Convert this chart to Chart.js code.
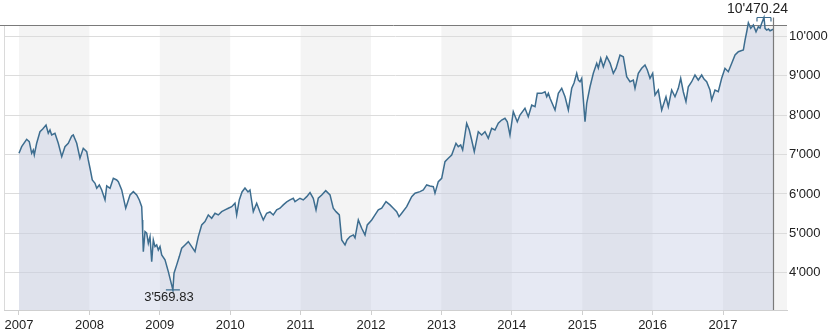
<!DOCTYPE html>
<html>
<head>
<meta charset="utf-8">
<script src="https://cdn.jsdelivr.net/npm/chart.js@4/dist/chart.umd.min.js"></script>
<style>
  body { margin: 0; background: #fff; }
  canvas { display: block; }
</style>
</head>
<body>
<canvas id="indexChart" width="830" height="335"></canvas>
<script>
// time in decimal years, index level
const years = [
  2007.000, 2007.038, 2007.109, 2007.146, 2007.180, 2007.203, 2007.217, 2007.251, 2007.298, 2007.337,
  2007.384, 2007.416, 2007.440, 2007.464, 2007.511, 2007.558, 2007.607, 2007.653, 2007.700, 2007.749,
  2007.771, 2007.820, 2007.866, 2007.913, 2007.962, 2007.984, 2008.009, 2008.041, 2008.080, 2008.104,
  2008.141, 2008.175, 2008.222, 2008.246, 2008.293, 2008.340, 2008.388, 2008.411, 2008.459, 2008.516,
  2008.577, 2008.624, 2008.672, 2008.709, 2008.743, 2008.751, 2008.757, 2008.766, 2008.790, 2008.814,
  2008.837, 2008.861, 2008.885, 2008.908, 2008.932, 2008.956, 2008.979, 2009.003, 2009.027, 2009.074,
  2009.121, 2009.186, 2009.202, 2009.240, 2009.277, 2009.311, 2009.358, 2009.405, 2009.453, 2009.500,
  2009.547, 2009.595, 2009.642, 2009.689, 2009.737, 2009.784, 2009.831, 2009.879, 2009.926, 2009.973,
  2010.021, 2010.068, 2010.092, 2010.129, 2010.168, 2010.210, 2010.253, 2010.281, 2010.328, 2010.376,
  2010.423, 2010.470, 2010.518, 2010.565, 2010.612, 2010.660, 2010.707, 2010.754, 2010.803, 2010.849,
  2010.896, 2010.920, 2010.991, 2011.038, 2011.087, 2011.134, 2011.180, 2011.219, 2011.251, 2011.300,
  2011.357, 2011.418, 2011.464, 2011.503, 2011.550, 2011.584, 2011.631, 2011.659, 2011.702, 2011.749,
  2011.773, 2011.820, 2011.868, 2011.915, 2011.947, 2012.010, 2012.057, 2012.104, 2012.152, 2012.213,
  2012.270, 2012.317, 2012.365, 2012.398, 2012.436, 2012.507, 2012.578, 2012.625, 2012.696, 2012.743,
  2012.791, 2012.838, 2012.885, 2012.909, 2012.956, 2013.004, 2013.051, 2013.098, 2013.146, 2013.207,
  2013.240, 2013.274, 2013.302, 2013.359, 2013.396, 2013.430, 2013.467, 2013.524, 2013.572, 2013.619,
  2013.666, 2013.714, 2013.761, 2013.808, 2013.856, 2013.903, 2013.936, 2013.974, 2014.021, 2014.078,
  2014.116, 2014.187, 2014.234, 2014.283, 2014.330, 2014.362, 2014.425, 2014.472, 2014.496, 2014.519,
  2014.543, 2014.614, 2014.661, 2014.709, 2014.756, 2014.803, 2014.851, 2014.884, 2014.922, 2014.945,
  2014.969, 2014.993, 2015.040, 2015.064, 2015.111, 2015.158, 2015.206, 2015.229, 2015.263, 2015.300,
  2015.349, 2015.396, 2015.442, 2015.480, 2015.537, 2015.584, 2015.632, 2015.679, 2015.726, 2015.750,
  2015.797, 2015.845, 2015.892, 2015.925, 2015.963, 2016.001, 2016.034, 2016.081, 2016.129, 2016.190,
  2016.223, 2016.271, 2016.318, 2016.365, 2016.399, 2016.436, 2016.474, 2016.507, 2016.555, 2016.602,
  2016.649, 2016.697, 2016.730, 2016.768, 2016.815, 2016.839, 2016.886, 2016.933, 2016.981, 2017.028,
  2017.075, 2017.124, 2017.171, 2017.218, 2017.289, 2017.313, 2017.337, 2017.360, 2017.394, 2017.431,
  2017.469, 2017.502, 2017.526, 2017.550, 2017.582, 2017.597, 2017.621, 2017.646, 2017.668, 2017.692,
  2017.710
];
const values = [
  7030, 7197, 7385, 7324, 7030, 7114, 6987, 7284, 7577, 7646,
  7747, 7537, 7620, 7494, 7537, 7284, 6944, 7197, 7284, 7468,
  7494, 7284, 6904, 7157, 7071, 6861, 6651, 6354, 6271, 6144,
  6228, 6101, 5848, 6203, 6144, 6397, 6354, 6312, 6101, 5638,
  5975, 6058, 5975, 5848, 5678, 5342, 5005, 4539, 5046, 5005,
  4752, 4919, 4286, 4835, 4666, 4709, 4582, 4666, 4456, 4329,
  4033, 3569.83, 3992, 4203, 4413, 4625, 4709, 4792, 4666, 4539,
  4919, 5215, 5299, 5468, 5385, 5511, 5468, 5552, 5595, 5638,
  5678, 5765, 5468, 5848, 6051, 6152, 6051, 6101, 5552, 5765,
  5544, 5342, 5511, 5544, 5468, 5595, 5638, 5722, 5797, 5848,
  5891, 5805, 5891, 5848, 5932, 6033, 5891, 5595, 5891, 5975,
  6084, 5975, 5638, 5552, 5468, 4835, 4709, 4835, 4919, 4962,
  4886, 5342, 5132, 4962, 5215, 5342, 5468, 5595, 5638, 5805,
  5722, 5638, 5552, 5425, 5511, 5678, 5932, 6018, 6058, 6101,
  6228, 6203, 6185, 6018, 6312, 6397, 6818, 6904, 6987, 7284,
  7197, 7241, 7114, 7790, 7620, 7367, 7071, 7577, 7494, 7577,
  7410, 7663, 7620, 7790, 7873, 7916, 7830, 7494, 8084, 7830,
  8000, 8170, 7957, 8253, 8210, 8549, 8549, 8590, 8463, 8549,
  8423, 8127, 8549, 8676, 8463, 8127, 8676, 8810, 9056, 8886,
  8843, 8929, 7830, 8296, 8716, 9056, 9309, 9190, 9435, 9223,
  9476, 9316, 9056, 9182, 9519, 9476, 8970, 8843, 8886, 8676,
  9056, 9182, 9266, 9139, 8929, 9056, 8506, 8633, 8127, 8463,
  8210, 8633, 8463, 8676, 8929, 8590, 8337, 8716, 8843, 9013,
  8886, 9013, 8911, 8843, 8633, 8380, 8633, 8590, 8929, 9182,
  9096, 9309, 9519, 9603, 9646, 9899, 10109, 10337, 10195, 10278,
  10109, 10235, 10203, 10322, 10470.24, 10195, 10152, 10177, 10134, 10152,
  10177
];
const yearTicks = [2007, 2008, 2009, 2010, 2011, 2012, 2013, 2014, 2015, 2016, 2017];
const levelTicks = [4000, 5000, 6000, 7000, 8000, 9000, 10000];

const lineColor = '#3d6d8f';
const textColor = '#222';

function swissFormat(v, decimals) {
  const parts = v.toFixed(decimals).split('.');
  parts[0] = parts[0].replace(/\B(?=(\d{3})+(?!\d))/g, "'");
  return parts.join('.');
}

Chart.defaults.font.family = '"Liberation Sans", Arial, sans-serif';
Chart.defaults.font.size = 13;
Chart.defaults.color = textColor;

// alternating year bands behind everything
const yearBands = {
  id: 'yearBands',
  beforeDraw(chart) {
    const { ctx, chartArea: a, scales: { x } } = chart;
    ctx.save();
    ctx.fillStyle = '#f4f4f4';
    for (let yr = yearTicks[0]; yr <= yearTicks[yearTicks.length - 1]; yr += 2) {
      const x0 = Math.max(a.left, x.getPixelForValue(yr));
      const x1 = Math.min(a.right, x.getPixelForValue(yr + 1));
      if (x1 > x0) ctx.fillRect(x0, a.top, x1 - x0, a.bottom - a.top);
    }
    ctx.restore();
  },
  beforeDatasetsDraw(chart) {
    const { ctx, chartArea: a } = chart;
    ctx.save();
    ctx.strokeStyle = '#dadada';
    ctx.lineWidth = 1;
    ctx.beginPath();
    ctx.moveTo(a.left + 0.5, a.top);
    ctx.lineTo(a.left + 0.5, a.bottom);
    ctx.stroke();
    ctx.strokeStyle = '#7a7a7a';
    ctx.beginPath();
    ctx.moveTo(0, a.top + 0.5);
    ctx.lineTo(a.right, a.top + 0.5);
    ctx.stroke();
    ctx.restore();
  }
};

// min / max markers and the "last value" vertical line
const extremes = {
  id: 'extremes',
  afterDatasetsDraw(chart) {
    const { ctx, chartArea: a, scales: { x, y } } = chart;
    let iMin = 0, iMax = 0;
    values.forEach((v, i) => {
      if (v < values[iMin]) iMin = i;
      if (v > values[iMax]) iMax = i;
    });
    const maxX = x.getPixelForValue(years[iMax]);
    const maxY = y.getPixelForValue(values[iMax]);
    const minX = x.getPixelForValue(years[iMin]);
    const minY = y.getPixelForValue(values[iMin]);
    const lastX = x.getPixelForValue(years[years.length - 1]);

    ctx.save();
    ctx.strokeStyle = '#7a7a7a';
    ctx.lineWidth = 1.2;
    ctx.beginPath();
    ctx.moveTo(Math.round(lastX) + 0.5, maxY);
    ctx.lineTo(Math.round(lastX) + 0.5, a.bottom);
    ctx.stroke();

    ctx.strokeStyle = lineColor;
    ctx.lineWidth = 1.2;
    ctx.beginPath();
    ctx.moveTo(maxX - 7, maxY);
    ctx.lineTo(maxX + 7, maxY);
    ctx.moveTo(maxX - 7, maxY);
    ctx.lineTo(maxX - 7, maxY + 4);
    ctx.moveTo(maxX + 7, maxY);
    ctx.lineTo(maxX + 7, maxY + 4);
    ctx.moveTo(minX - 7, minY);
    ctx.lineTo(minX + 7, minY);
    ctx.stroke();

    ctx.fillStyle = textColor;
    ctx.textBaseline = 'middle';
    ctx.font = '14px "Liberation Sans", Arial, sans-serif';
    const maxLabel = swissFormat(values[iMax], 2);
    const w = ctx.measureText(maxLabel).width;
    let tx = Math.min(maxX - w / 2, a.right + 1 - w);
    ctx.textAlign = 'left';
    ctx.fillText(maxLabel, tx, maxY - 8);

    ctx.font = '13px "Liberation Sans", Arial, sans-serif';
    ctx.textAlign = 'center';
    ctx.fillText(swissFormat(values[iMin], 2), minX - 4, minY + 8);
    ctx.restore();
  }
};

const ctx = document.getElementById('indexChart').getContext('2d');
new Chart(ctx, {
  type: 'line',
  data: {
    datasets: [
      {
        data: years.map((t, i) => ({ x: t, y: values[i] })),
        borderColor: lineColor,
        borderWidth: 1.5,
        pointRadius: 0,
        tension: 0,
        fill: 'start',
        backgroundColor: 'rgba(192, 200, 225, 0.4)',
        clip: false
      }
    ]
  },
  options: {
    responsive: false,
    animation: false,
    layout: { padding: { left: 4, top: 25, right: 0, bottom: 0 } },
    plugins: {
      legend: { display: false },
      tooltip: { enabled: false }
    },
    scales: {
      x: {
        type: 'linear',
        min: 2006.787,
        max: 2017.909,
        afterBuildTicks: scale => { scale.ticks = yearTicks.map(v => ({ value: v })); },
        afterFit: scale => { scale.height = 25; },
        grid: { drawOnChartArea: false, drawTicks: true, tickLength: 5, color: '#cfcfcf' },
        border: { display: true, color: '#cfcfcf' },
        ticks: {
          autoSkip: false,
          maxRotation: 0,
          padding: 3,
          callback: v => String(v)
        }
      },
      y: {
        position: 'right',
        min: 3060,
        max: 10280,
        afterBuildTicks: scale => { scale.ticks = levelTicks.map(v => ({ value: v })); },
        afterFit: scale => { scale.width = 43; },
        grid: { color: '#dcdcdc', drawTicks: false },
        border: { display: false },
        ticks: {
          padding: 2,
          callback: v => swissFormat(v, 0)
        }
      }
    }
  },
  plugins: [yearBands, extremes]
});
</script>
</body>
</html>
